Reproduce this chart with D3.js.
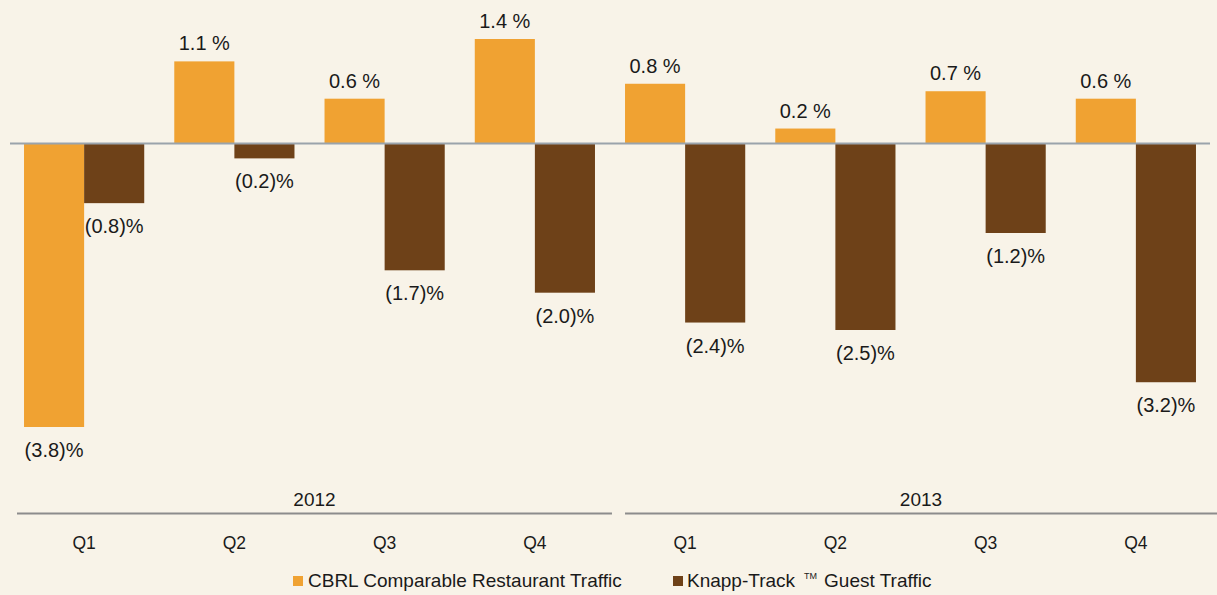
<!DOCTYPE html>
<html><head><meta charset="utf-8">
<script src="https://cdn.jsdelivr.net/npm/d3@7"></script>
<style>
html,body{margin:0;padding:0;background:#f8f3e8;}
svg{display:block;font-family:"Liberation Sans",Arial,sans-serif;}
</style></head>
<body>
<svg id="chart" width="1217" height="595"></svg>
<script>
const quarters = ["Q1","Q2","Q3","Q4","Q1","Q2","Q3","Q4"];
const years = ["2012","2013"];
const cbrl = [-3.8, 1.1, 0.6, 1.4, 0.8, 0.2, 0.7, 0.6];
const knapp = [-0.8, -0.2, -1.7, -2.0, -2.4, -2.5, -1.2, -3.2];
const seriesNames = ["CBRL Comparable Restaurant Traffic", "Knapp-Track"];
const colors = ["#f0a232", "#6e4118"];

const svg = d3.select("#chart");
svg.append("rect").attr("width",1217).attr("height",595).attr("fill","#f8f3e8");

const idx = d3.range(quarters.length);
const x = d3.scaleBand().domain(idx).range([9, 1211]).paddingInner(0.2).paddingOuter(0.1);
const xs = d3.scaleBand().domain([0,1]).range([0, x.bandwidth()]);
const y = d3.scaleLinear().domain([-3.8, 1.4]).range([427, 39]);

const fmt = v => v < 0 ? "(" + Math.abs(v).toFixed(1) + ")%" : v.toFixed(1) + " %";

const series = [cbrl, knapp];
series.forEach((vals, s) => {
  const g = svg.append("g");
  g.selectAll("rect").data(vals).join("rect")
    .attr("x", (d,i) => x(i) + xs(s))
    .attr("width", xs.bandwidth())
    .attr("y", d => y(Math.max(0,d)))
    .attr("height", d => Math.abs(y(d) - y(0)))
    .attr("fill", colors[s]);
  g.selectAll("text").data(vals).join("text")
    .attr("x", (d,i) => x(i) + xs(s) + xs.bandwidth()/2)
    .attr("y", d => d >= 0 ? y(d) - 11 : y(d) + 30)
    .attr("text-anchor","middle")
    .attr("font-size", 20)
    .attr("fill", "#1a1a1a")
    .text(d => fmt(d));
});

// zero line
svg.append("line").attr("x1", 10).attr("x2", 1210)
  .attr("y1", y(0)).attr("y2", y(0))
  .attr("stroke", "#9aa3ab").attr("stroke-width", 2);

// quarter labels
svg.append("g").selectAll("text").data(quarters).join("text")
  .attr("x", (d,i) => x(i) + x.bandwidth()/2)
  .attr("y", 549)
  .attr("text-anchor","middle")
  .attr("font-size", 17.5)
  .attr("fill", "#1a1a1a")
  .text(d => d);

// year groups
years.forEach((yr, k) => {
  const first = k*4, last = k*4 + 3;
  const x1 = k === 0 ? 17 : x(first);
  const x2 = k === 0 ? x(last) + x.bandwidth() + 17 : 1217;
  svg.append("line").attr("x1", x1).attr("x2", x2).attr("y1", 513.5).attr("y2", 513.5)
    .attr("stroke", "#8c8c8c").attr("stroke-width", 2);
  svg.append("text").attr("x", (x1 + x2)/2).attr("y", 506)
    .attr("text-anchor","middle").attr("font-size", 19).attr("fill","#1a1a1a").text(yr);
});

// legend
const leg = svg.append("g").attr("font-size", 19).attr("fill", "#1a1a1a");
leg.append("rect").attr("x", 293).attr("y", 576).attr("width", 10).attr("height", 10).attr("fill", colors[0]);
leg.append("text").attr("x", 308).attr("y", 587).text(seriesNames[0]);
leg.append("rect").attr("x", 673).attr("y", 576).attr("width", 10).attr("height", 10).attr("fill", colors[1]);
const t2 = leg.append("text").attr("x", 687).attr("y", 587);
t2.append("tspan").text(seriesNames[1]);
t2.append("tspan").attr("font-size", 9).attr("dy", -8).attr("dx", 9).text("TM");
t2.append("tspan").attr("dy", 8).attr("dx", 7).text("Guest Traffic");
</script>
</body></html>
